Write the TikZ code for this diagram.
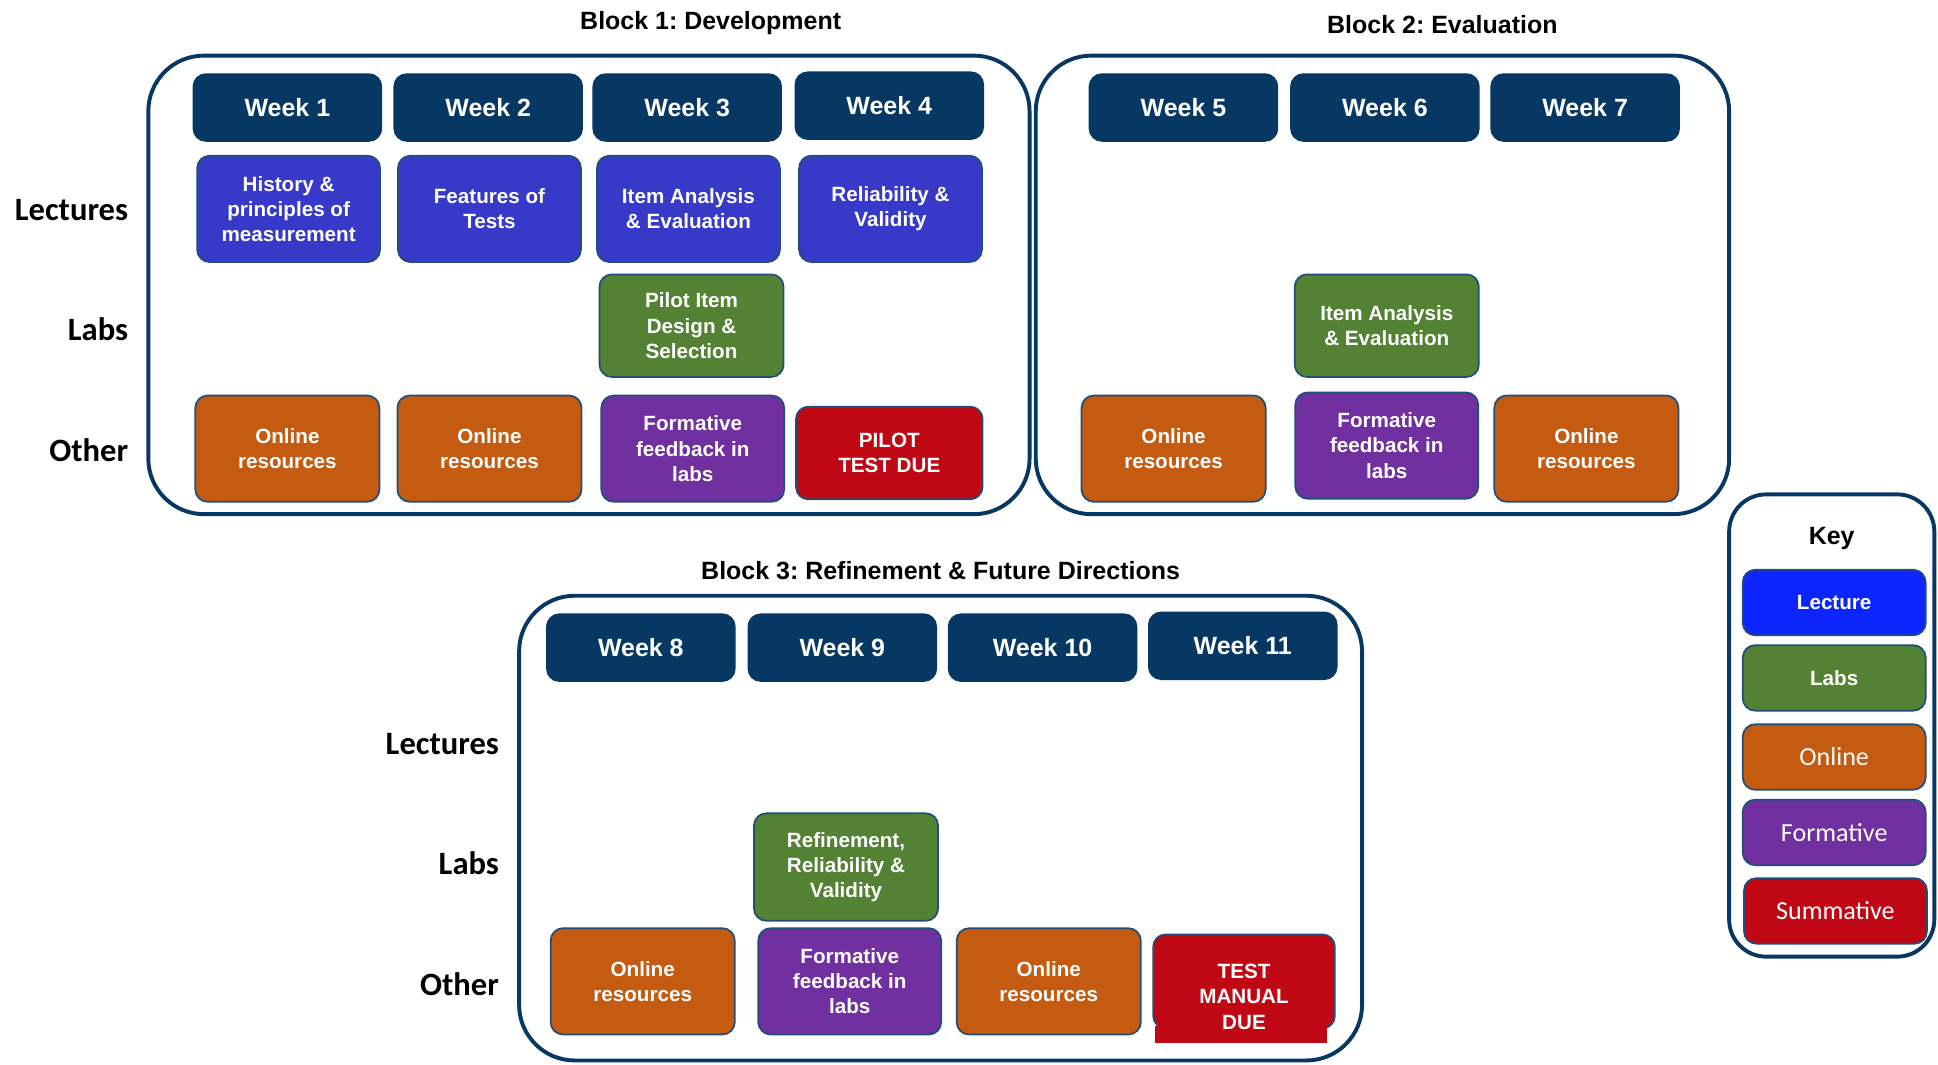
\documentclass[tikz,border=0pt]{standalone}
\usepackage{fontspec}
\setmainfont{Liberation Sans}
\newfontfamily\calib{Carlito}
\usetikzlibrary{positioning}
\frenchspacing

\definecolor{navy}{HTML}{073763}
\definecolor{edgeblue}{HTML}{1F4E79}
\definecolor{lecblue}{HTML}{3739C8}
\definecolor{keyblue}{HTML}{0D26FF}
\definecolor{labgreen}{HTML}{548235}
\definecolor{onlorange}{HTML}{C55A11}
\definecolor{frmpurple}{HTML}{7030A0}
\definecolor{sumred}{HTML}{C00815}

\tikzset{
  box/.style={rounded corners=0.2cm, draw=edgeblue, line width=0.8pt, text=white,
    align=center, inner sep=1pt, font=\bfseries\fontsize{9.5}{11.6}\selectfont},
  wkbox/.style={box, fill=navy, draw=navy, minimum width=3.04cm, minimum height=1.08cm,
    font=\bfseries\fontsize{11.5}{13}\selectfont},
  lecbox/.style={box, fill=lecblue, minimum width=2.96cm, minimum height=1.72cm},
  labbox/.style={box, fill=labgreen, minimum width=2.98cm, minimum height=1.66cm},
  onlbox/.style={box, fill=onlorange, minimum width=2.98cm, minimum height=1.72cm},
  frmbox/.style={box, fill=frmpurple, minimum width=2.96cm, minimum height=1.72cm},
  sumbox/.style={box, fill=sumred, minimum width=3.02cm, minimum height=1.5cm},
  keybox/.style={box, minimum width=2.96cm, minimum height=1.06cm},
  blockframe/.style={draw=navy, line width=1.8pt, rounded corners=0.9cm},
  rowlab/.style={anchor=east, inner sep=0pt, font=\calib\bfseries\fontsize{15}{18}\selectfont},
  blocktitle/.style={font=\bfseries\fontsize{11.5}{13}\selectfont},
}

\begin{document}
\begin{tikzpicture}[x=0.02cm, y=-0.02cm]
\useasboundingbox (0,0) rectangle (1568,861);

% block 1
\node[blocktitle] (t1) at (575,19) {Block 1: Development};
\draw[blockframe] (120,45) rectangle (833,416);
\node[rowlab] (rlec1) at (104,170) {Lectures};
\node[rowlab] (rlab1) at (104,266) {Labs};
\node[rowlab] (roth1) at (104,364) {Other};

\node[wkbox] (w1) at (232.5,87) {Week 1};
\node[wkbox] (w2) at (395,87) {Week 2};
\node[wkbox] (w3) at (556,87) {Week 3};
\node[wkbox] (w4) at (719.5,85.5) {Week 4};

\node[lecbox] (lec1) at (233.5,169) {History \&\\principles of\\measurement};
\node[lecbox] (lec2) at (396,169) {Features of\\Tests};
\node[lecbox] (lec3) at (557,169) {Item Analysis\\\& Evaluation};
\node[lecbox] (lec4) at (720.5,169) {Reliability \&\\Validity};

\node[labbox] (lab3) at (559.5,263.5) {Pilot Item\\Design \&\\Selection};

\node[onlbox] (oth1) at (232.5,363) {Online\\resources};
\node[onlbox] (oth2) at (396,363) {Online\\resources};
\node[frmbox] (oth3) at (560.5,363) {Formative\\feedback in\\labs};
\node[sumbox] (oth4) at (719.5,366.5) {PILOT\\TEST DUE};

% block 2
\node[blocktitle] (t2) at (1167,20) {Block 2: Evaluation};
\draw[blockframe] (838,45) rectangle (1399,416);

\node[wkbox] (w5) at (957.5,87) {Week 5};
\node[wkbox] (w6) at (1120.5,87) {Week 6};
\node[wkbox] (w7) at (1282.5,87) {Week 7};

\node[labbox] (lab6) at (1122,263.5) {Item Analysis\\\& Evaluation};

\node[onlbox] (oth5) at (949.5,363) {Online\\resources};
\node[frmbox] (oth6) at (1122,360.5) {Formative\\feedback in\\labs};
\node[onlbox] (oth7) at (1283.5,363) {Online\\resources};

% block 3
\node[blocktitle] (t3) at (761,462) {Block 3: Refinement \& Future Directions};
\draw[blockframe] (420,482) rectangle (1102,858);
\node[rowlab] (rlec3) at (404,602) {Lectures};
\node[rowlab] (rlab3) at (404,698) {Labs};
\node[rowlab] (roth3) at (404,796) {Other};

\node[wkbox] (w8) at (518.5,524) {Week 8};
\node[wkbox] (w9) at (681.5,524) {Week 9};
\node[wkbox] (w10) at (843.5,524) {Week 10};
\node[wkbox] (w11) at (1005.5,522.5) {Week 11};

\node[labbox, minimum height=1.74cm] (lab9) at (684.5,701.5) {Refinement,\\Reliability \&\\Validity};

\node[onlbox] (oth8) at (520,794) {Online\\resources};
\node[frmbox] (oth9) at (687.5,794) {Formative\\feedback in\\labs};
\node[onlbox] (oth10) at (848.5,794) {Online\\resources};
\node[sumbox, minimum width=2.94cm, minimum height=1.52cm] (oth11) at (1006.5,794) {};
\fill[sumred] (934.5,830.5) rectangle (1074,844);
\node[box, draw=none] (oth11txt) at ([yshift=-0.25cm]oth11.center) {TEST\\MANUAL\\DUE};

% key
\draw[blockframe, rounded corners=0.6cm] (1399,400) rectangle (1565,774);
\node[blocktitle] (key) at (1482,436) {Key};
\node[keybox, fill=keyblue, font=\bfseries\fontsize{9.5}{11}\selectfont] (klec) at (1484,487.5) {Lecture};
\node[keybox, fill=labgreen, font=\bfseries\fontsize{9.5}{11}\selectfont] (klab) at (1484,548.5) {Labs};
\node[keybox, fill=onlorange, font=\calib\fontsize{12}{14}\selectfont] (konl) at (1484,612.5) {Online};
\node[keybox, fill=frmpurple, font=\calib\fontsize{12}{14}\selectfont] (kfrm) at (1484,673.5) {Formative};
\node[keybox, fill=sumred, font=\calib\fontsize{12}{14}\selectfont] (ksum) at (1485,737) {Summative};
\end{tikzpicture}
\end{document}
